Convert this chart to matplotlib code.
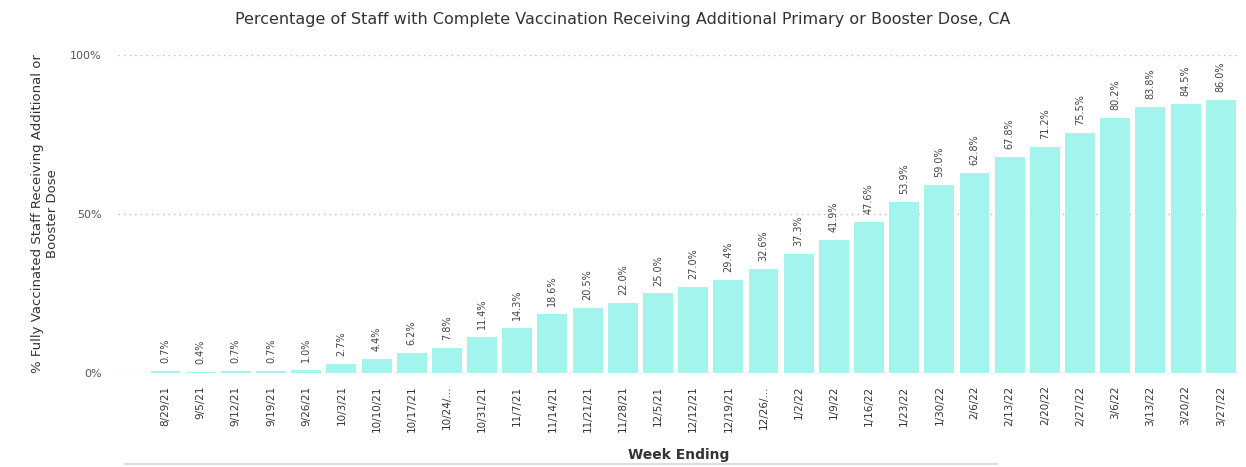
import numpy as np
import matplotlib.pyplot as plt

weeks = ["8/29/21", "9/5/21", "9/12/21", "9/19/21", "9/26/21", "10/3/21", "10/10/21",
         "10/17/21", "10/24/...", "10/31/21", "11/7/21", "11/14/21", "11/21/21", "11/28/21",
         "12/5/21", "12/12/21", "12/19/21", "12/26/...", "1/2/22", "1/9/22", "1/16/22",
         "1/23/22", "1/30/22", "2/6/22", "2/13/22", "2/20/22", "2/27/22", "3/6/22",
         "3/13/22", "3/20/22", "3/27/22"]
pct = [0.7, 0.4, 0.7, 0.7, 1.0, 2.7, 4.4, 6.2, 7.8, 11.4, 14.3, 18.6, 20.5, 22.0, 25.0,
       27.0, 29.4, 32.6, 37.3, 41.9, 47.6, 53.9, 59.0, 62.8, 67.8, 71.2, 75.5, 80.2,
       83.8, 84.5, 86.0]

fig = plt.figure(figsize=(12.46, 4.67), dpi=100)
ax = fig.add_axes([0.095, 0.2013, 0.9, 0.6809])

x = np.arange(len(weeks))
ax.bar(x, pct, width=0.85, color="#A4F4EE", zorder=2)

for xi, v in zip(x, pct):
    ax.text(xi, v + 2.5, f"{v:.1f}%", rotation=90, ha="center", va="bottom",
            fontsize=7, color="#444444", clip_on=False)

ax.set_xlim(-1.34, 30.54)
ax.set_ylim(0, 100)
ax.set_yticks([0, 50, 100])
ax.set_yticklabels(["0%", "50%", "100%"])
ax.set_xticks(x)
ax.set_xticklabels(weeks, rotation=90, fontsize=7.5, color="#333333")
ax.tick_params(axis="y", length=0, labelsize=8, labelcolor="#555555", pad=12)
ax.tick_params(axis="x", length=0, pad=9)
ax.grid(axis="y", linestyle=(0, (1, 3)), color="#BBBBBB", linewidth=1, zorder=0)
for s in ax.spines.values():
    s.set_visible(False)

ax.set_xlabel("Week Ending", fontsize=10, fontweight="bold", color="#333333", labelpad=11)
ax.set_ylabel("% Fully Vaccinated Staff Receiving Additional or\nBooster Dose", fontsize=9.5,
              color="#333333", labelpad=8)
fig.suptitle("Percentage of Staff with Complete Vaccination Receiving Additional Primary or Booster Dose, CA",
             fontsize=11.5, color="#333333", y=0.975)

# faint bottom border line
fig.add_artist(plt.Line2D([0.1, 0.8], [0.006, 0.006], color="#DDDDDD", linewidth=1.5))

fig.savefig("out.png", dpi=100)
